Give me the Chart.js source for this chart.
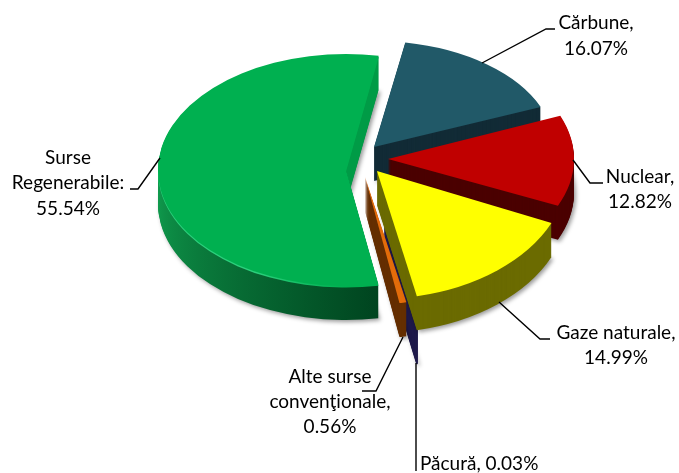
<!DOCTYPE html>
<html lang="ro">

<head>
  <meta charset="UTF-8" />
  <title>Surse de energie</title>
  <style>
    * {
      margin: 0;
      padding: 0;
    }

    body {
      background: #fff;
    }

    canvas {
      display: block;
    }
  </style>
</head>

<body>
  <canvas id="myChart" width="679" height="473"></canvas>
  <script src="https://cdn.jsdelivr.net/npm/chart.js@4/dist/chart.umd.min.js"></script>
  <script>
    const categories = ["Cărbune", "Nuclear", "Gaze naturale", "Păcură", "Alte surse convenţionale", "Surse Regenerabile"];
    const values = [16.07, 12.82, 14.99, 0.03, 0.56, 55.54];

    // slice colours: top face, then the extruded wall
    const topColors = ["#215968", "#c00000", "#ffff00", "#1f1a4a", "#e46c0a", "#00b050"];
    const wallColors = ["#122b36", "#4b0000", "#6b6b00", "#231a45", "#652f00", null];

    // fake 3d: where each exploded slice sits, how wide and tall it is drawn
    const sliceAnchor = [[374, 147], [388, 159], [377, 171], [385, 225], [365, 177], [346, 170]];
    const sliceSize = [[180, 106], [186, 115], [191, 128], [154, 107], [200, 128], [188, 116]];
    const drawOrder = [5, 0, 1, 3, 4, 2];
    const wallDepth = 34;

    // label rows and leader lines
    const labelRows = [
      { rows: ["Cărbune,", "16.07%"], x: 596, y: [23, 49], align: "center" },
      { rows: ["Nuclear,", "12.82%"], x: 640, y: [177, 202], align: "center" },
      { rows: ["Gaze naturale,", "14.99%"], x: 616, y: [333, 358], align: "center" },
      { rows: ["Păcură, 0.03%"], x: 420, y: [464], align: "left" },
      { rows: ["Alte surse", "convenţionale,", "0.56%"], x: 330, y: [377, 402, 427], align: "center" },
      { rows: ["Surse", "Regenerabile:", "55.54%"], x: 68, y: [158, 183, 209], align: "center" }
    ];
    const leaders = [
      [[482, 63], [546, 29], [555, 29]],
      [[573, 160], [590, 183], [603, 183]],
      [[499, 302], [540, 339], [550, 339]],
      [[416, 363], [416, 471]],
      [[403, 337], [376, 391], [362, 391]],
      [[160, 158], [138, 189], [130, 189]]
    ];

    const greenWall = (ctx, el) => {
      const g = ctx.createConicGradient(-Math.PI / 2, el.x, el.y);
      g.addColorStop(0, "#009b46");
      g.addColorStop(0.03, "#009b46");
      g.addColorStop(0.472, "#00441f");
      g.addColorStop(0.75, "#109d4e");
      g.addColorStop(1, "#009b46");
      return g;
    };

    // thin light edge along the front of the big slice
    const greenRim = (ctx, el) => {
      const g = ctx.createConicGradient(-Math.PI / 2, el.x, el.y);
      g.addColorStop(0, "#00b050");
      g.addColorStop(0.5, "#00b050");
      g.addColorStop(0.58, "#2bd07c");
      g.addColorStop(0.72, "#2bd07c");
      g.addColorStop(0.8, "#00b050");
      g.addColorStop(1, "#00b050");
      return g;
    };

    const drawSlice = (ctx, el, i, drop, fill, border) => {
      const clone = Object.create(el);
      clone.options = {
        backgroundColor: fill,
        borderColor: border || fill,
        borderWidth: border ? 1 : 0,
        borderAlign: "center",
        borderJoinStyle: "round",
        offset: 0,
        spacing: 0,
        circular: true
      };
      ctx.save();
      ctx.translate(sliceAnchor[i][0], sliceAnchor[i][1] + drop);
      ctx.scale(sliceSize[i][0] / el.outerRadius, sliceSize[i][1] / el.outerRadius);
      ctx.translate(-el.x, -el.y);
      clone.draw(ctx);
      ctx.restore();
    };

    const pie3d = {
      id: "pie3d",
      beforeDatasetDraw(chart) {
        const ctx = chart.ctx;
        const arcs = chart.getDatasetMeta(0).data;
        drawOrder.forEach((i) => {
          const el = arcs[i];
          const wall = wallColors[i] || greenWall(ctx, el);
          const border = i === 3 ? topColors[3] : null;
          for (let k = wallDepth; k >= 1; k--) {
            ctx.save();
            if (k === wallDepth) {
              ctx.shadowColor = "rgba(0,0,0,0.4)";
              ctx.shadowBlur = 4;
              ctx.shadowOffsetX = 2;
              ctx.shadowOffsetY = 2;
            }
            drawSlice(ctx, el, i, k, wall, border);
            ctx.restore();
          }
          if (i === 5) drawSlice(ctx, el, i, 1.5, greenRim(ctx, el));
          drawSlice(ctx, el, i, 0, topColors[i], border);
        });
        return false;
      },
      afterDraw(chart) {
        const ctx = chart.ctx;
        ctx.save();
        ctx.strokeStyle = "#000";
        ctx.lineWidth = 1.4;
        leaders.forEach((line) => {
          ctx.beginPath();
          line.forEach((p, n) => (n ? ctx.lineTo(p[0], p[1]) : ctx.moveTo(p[0], p[1])));
          ctx.stroke();
        });
        ctx.fillStyle = "#000";
        ctx.font = '19px Lato, "Open Sans", sans-serif';
        ctx.textBaseline = "middle";
        labelRows.forEach((l) => {
          ctx.textAlign = l.align;
          l.rows.forEach((row, n) => ctx.fillText(row, l.x, l.y[n]));
        });
        ctx.restore();
      }
    };

    const myChart = new Chart(document.getElementById("myChart"), {
      type: "pie",
      data: {
        labels: categories,
        datasets: [{ data: values, backgroundColor: topColors, borderWidth: 0 }]
      },
      options: {
        responsive: false,
        animation: false,
        rotation: 10,
        radius: 100,
        plugins: { legend: { display: false }, tooltip: { enabled: false } }
      },
      plugins: [pie3d]
    });
  </script>
</body>

</html>
